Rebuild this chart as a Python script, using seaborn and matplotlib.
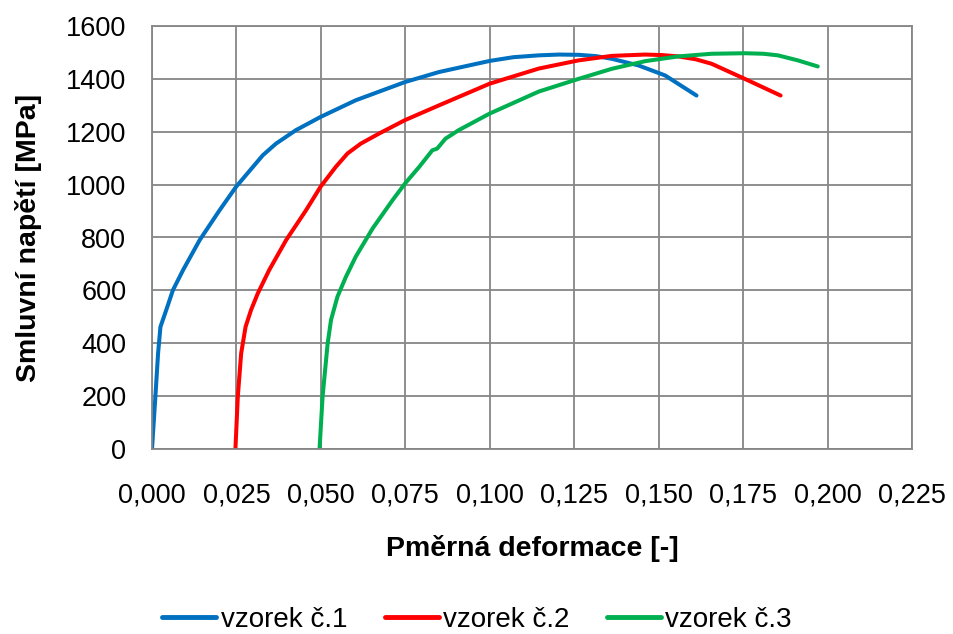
import matplotlib
matplotlib.use("Agg")
import matplotlib.pyplot as plt
import matplotlib.ticker as mticker
import seaborn as sns
import pandas as pd

# data (strain [-], stress [MPa])
strain_1 = [0.0, 0.0010, 0.0018, 0.0025, 0.0042, 0.0062, 0.0092, 0.0141, 0.0200, 0.0249,
            0.0328, 0.0367, 0.0426, 0.0499, 0.0603, 0.0749, 0.0850, 0.1000, 0.1070, 0.1145,
            0.1205, 0.1263, 0.1315, 0.1361, 0.1440, 0.1519, 0.1612]
stress_1 = [0, 198, 362, 462, 525, 601, 677, 790, 903, 992,
            1111, 1155, 1206, 1256, 1319, 1388, 1426, 1468, 1482, 1489,
            1492, 1491, 1486, 1476, 1451, 1413, 1337]

strain_2 = [0.0247, 0.0254, 0.0264, 0.0277, 0.0293, 0.0313, 0.0347, 0.0397, 0.0456, 0.0499,
            0.0544, 0.0579, 0.0618, 0.0672, 0.0749, 0.0850, 0.1000, 0.1145, 0.1263,
            0.1361, 0.1460, 0.1510, 0.1558, 0.1610, 0.1657, 0.1755, 0.1861]
stress_2 = [0, 198, 362, 462, 525, 588, 677, 790, 903, 992,
            1067, 1118, 1155, 1193, 1244, 1300, 1382, 1439, 1470,
            1487, 1492, 1490, 1485, 1474, 1457, 1400, 1337]

strain_3 = [0.0496, 0.0505, 0.0520, 0.0530, 0.0549, 0.0574, 0.0603, 0.0653, 0.0712, 0.0749,
            0.0791, 0.0830, 0.0844, 0.0869, 0.0908, 0.1000, 0.1145, 0.1263, 0.1361,
            0.1460, 0.1558, 0.1657, 0.1755, 0.1810, 0.1853, 0.1912, 0.1971]
stress_3 = [0, 198, 399, 488, 576, 651, 727, 834, 941, 1004,
            1067, 1130, 1136, 1174, 1206, 1269, 1352, 1400, 1438,
            1467, 1485, 1495, 1497, 1495, 1489, 1470, 1447]

labels = ["vzorek č.1", "vzorek č.2", "vzorek č.3"]
colors = ["#0070C0", "#FF0000", "#00B050"]

x_ticks = [0.0, 0.025, 0.05, 0.075, 0.1, 0.125, 0.15, 0.175, 0.2, 0.225]
y_ticks = [0, 200, 400, 600, 800, 1000, 1200, 1400, 1600]


def build_frame():
    parts = []
    for lab, xs, ys in zip(labels, [strain_1, strain_2, strain_3],
                           [stress_1, stress_2, stress_3]):
        parts.append(pd.DataFrame({"strain": xs, "stress": ys, "vzorek": lab}))
    return pd.concat(parts, ignore_index=True)


def main():
    sns.set_theme(style="white")
    plt.rcParams["font.family"] = ["Liberation Sans", "DejaVu Sans"]
    plt.rcParams["text.color"] = "black"
    plt.rcParams["axes.labelcolor"] = "black"

    df = build_frame()

    fig = plt.figure(figsize=(9.54, 6.34), dpi=100)
    ax = fig.add_axes([152 / 954, 1 - 449 / 634, 760 / 954, 423 / 634])

    sns.lineplot(data=df, x="strain", y="stress", hue="vzorek", sort=False,
                 palette=colors, linewidth=2.9, ax=ax, legend=False,
                 estimator=None)

    ax.set_xlim(0, 0.225)
    ax.set_ylim(0, 1600)
    ax.set_xticks(x_ticks)
    ax.set_yticks(y_ticks)
    ax.xaxis.set_major_formatter(
        mticker.FuncFormatter(lambda v, p: f"{v:.3f}".replace(".", ",")))
    ax.grid(True, color="#868686", linewidth=1.3)
    for sp in ax.spines.values():
        sp.set_color("#868686")
        sp.set_linewidth(1.3)
    ax.tick_params(axis="both", length=0, labelsize=19.5, colors="black")
    ax.tick_params(axis="x", pad=24)
    ax.tick_params(axis="y", pad=18.5)

    ax.set_xlabel("Pměrná deformace [-]", fontsize=20.5, fontweight="bold",
                  labelpad=19, color="black")
    ax.set_ylabel("Smluvní napětí [MPa]", fontsize=20.5, fontweight="bold",
                  labelpad=17, color="black")

    handles = [plt.Line2D([0], [0], color=c, linewidth=3.5) for c in colors]
    fig.legend(handles, labels, loc="center", bbox_to_anchor=(0.5, 1 - 620 / 634),
               ncol=3, frameon=False, fontsize=20, handlelength=1.95,
               handletextpad=0.15, columnspacing=1.35, labelcolor="black")

    fig.savefig("out.png", dpi=100)


if __name__ == "__main__":
    main()
